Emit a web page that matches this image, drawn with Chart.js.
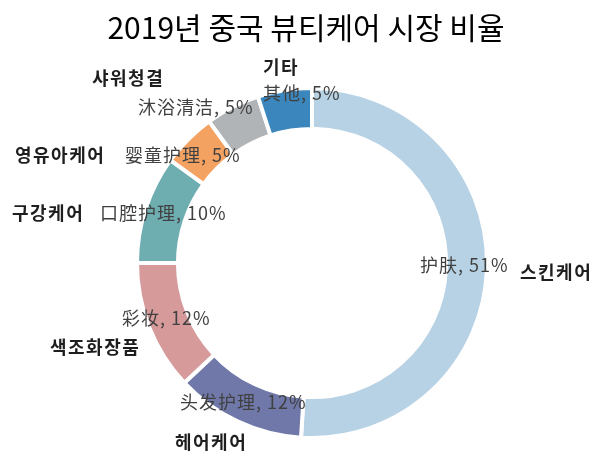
<!DOCTYPE html>
<html lang="ko">
<head>
<meta charset="utf-8">
<script src="https://cdn.jsdelivr.net/npm/chart.js@4.4.1/dist/chart.umd.min.js"></script>
<style>
  html, body { margin: 0; padding: 0; background: #fff; }
  #wrap { width: 595px; height: 452px; position: relative; }
</style>
</head>
<body>
<div id="wrap"><canvas id="beautyChart"></canvas></div>
<script>
// 데이터
const titleText = '2019년 중국 뷰티케어 시장 비율';
const categories = ['스킨케어', '헤어케어', '색조화장품', '구강케어', '영유아케어', '샤워청결', '기타'];
const cnLabels = ['护肤', '头发护理', '彩妆', '口腔护理', '婴童护理', '沐浴清洁', '其他'];
const shares = [51, 12, 12, 10, 5, 5, 5];
const sliceColors = ['#b7d2e5', '#6f78a8', '#d79a9b', '#6eadb0', '#f3a262', '#b1b4b6', '#3a86bd'];

// 라벨 위치 (도넛 중심 기준, px)
const labelOffsets = [
    { cn: [108, 2],     ko: [208, 9] },
    { cn: [-132, 139],  ko: [-137, 179] },
    { cn: [-190, 55],   ko: [-262, 84] },
    { cn: [-212, -50],  ko: [-300, -50] },
    { cn: [-187, -108], ko: [-297, -108] },
    { cn: [-174, -156], ko: [-220, -185] },
    { cn: [-49, -170],  ko: [-49, -196] }
];

// 라벨 + 제목 그리기
const labelPlugin = {
    id: 'sliceLabels',
    afterDatasetsDraw(chart) {
        const ctx = chart.ctx;
        const arc = chart.getDatasetMeta(0).data[0];
        const cx = arc.x, cy = arc.y;
        ctx.save();
        ctx.textBaseline = 'middle';
        ctx.textAlign = 'left';
        shares.forEach((v, i) => {
            const off = labelOffsets[i];
            ctx.font = '18px "Noto Sans CJK SC"';
            ctx.letterSpacing = '1px';
            ctx.fillStyle = '#404040';
            ctx.fillText(cnLabels[i] + ', ' + v + '%', cx + off.cn[0], cy + off.cn[1]);
            ctx.font = 'bold 18px "Noto Sans CJK KR"';
            ctx.letterSpacing = '1.5px';
            ctx.fillStyle = '#1e1e1e';
            ctx.fillText(categories[i], cx + off.ko[0], cy + off.ko[1]);
        });
        ctx.letterSpacing = '0px';
        ctx.font = '30px "Noto Sans CJK KR"';
        ctx.fillStyle = '#000';
        ctx.textAlign = 'center';
        ctx.fillText(titleText, cx - 6, 28);
        ctx.restore();
    }
};

const ctx = document.getElementById('beautyChart').getContext('2d');
new Chart(ctx, {
    type: 'doughnut',
    data: {
        labels: categories,
        datasets: [{
            data: shares,
            backgroundColor: sliceColors,
            borderColor: '#ffffff',
            borderWidth: 4,
            hoverOffset: 0
        }]
    },
    options: {
        responsive: true,
        maintainAspectRatio: false,
        animation: false,
        radius: 175,
        cutout: 131,
        layout: { padding: { left: 139, right: 110, top: 90, bottom: 16 } },
        plugins: {
            legend: { display: false },
            tooltip: { enabled: false }
        }
    },
    plugins: [labelPlugin]
});
</script>
</body>
</html>
